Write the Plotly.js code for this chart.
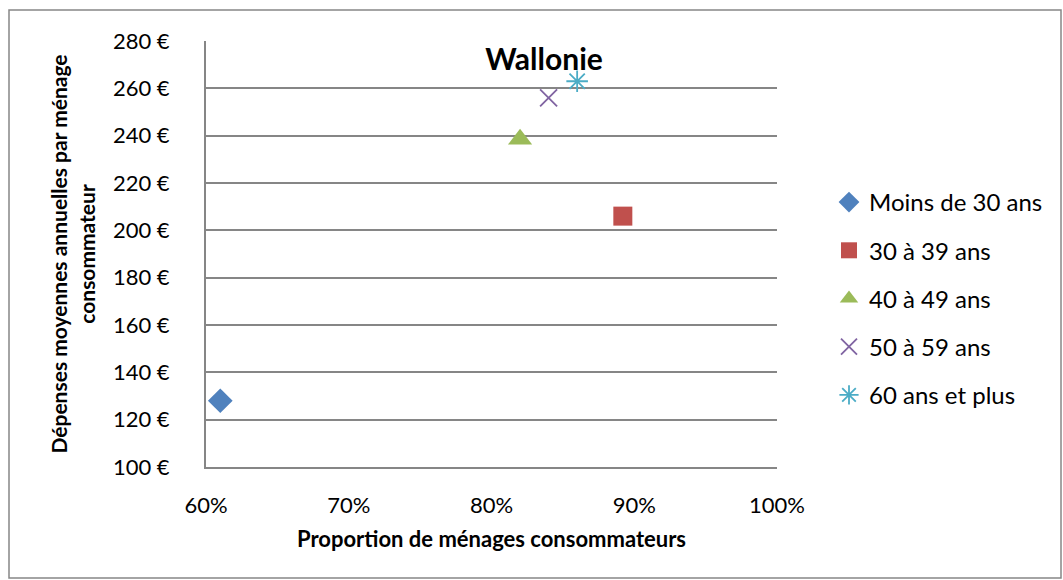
<!DOCTYPE html>
<html><head><meta charset="utf-8">
<script src="https://cdn.plot.ly/plotly-3.0.1.min.js"></script>
<style>body{margin:0;padding:0;background:#fff}#chart{width:1063px;height:580px}</style>
</head><body><div id="chart"></div>
<script>
const seriesNames = ["Moins de 30 ans", "30 à 39 ans", "40 à 49 ans", "50 à 59 ans", "60 ans et plus"];
const proportion = [0.61, 0.892, 0.82, 0.84, 0.86];
const depenses = [128, 206, 238.5, 256, 263];
const colors = ["#4F81BD", "#C0504D", "#9BBB59", "#8064A2", "#4BACC6"];
const symbols = ["diamond", "square", "triangle-up", "x-thin-open", "asterisk-open"];
const sizes = [19, 19, 21, 17, 18];

const FONT = "Lato, 'Open Sans', sans-serif";
const traces = seriesNames.map((n, i) => ({
  type: "scatter", mode: "markers", name: n, legendgroup: "g" + i,
  x: [proportion[i]], y: [depenses[i]],
  marker: {symbol: symbols[i], color: colors[i], size: sizes[i],
           line: {color: colors[i], width: (i >= 3 ? 1.8 : 0)}},
  hoverinfo: "x+y+name"
}));

const L = 206, R = 777, T = 41, B = 467, W = 1063, H = 580;
const pw = R - L, ph = B - T;
const layout = {
  width: W, height: H,
  margin: {l: L, r: W - R, t: T, b: H - B},
  paper_bgcolor: "#fff", plot_bgcolor: "#fff",
  font: {family: FONT, size: 22, color: "#000"},
  title: {text: "<b>Wallonie</b>", font: {family: FONT, size: 30, color: "#000"},
          xref: "paper", x: (544 - L) / pw, xanchor: "center",
          yref: "paper", y: (B - 59) / ph, yanchor: "middle"},
  xaxis: {range: [0.6, 1.0], dtick: 0.1, tick0: 0.6, tickformat: ".0%",
          showgrid: false, zeroline: false, showline: true, linecolor: "#868686", linewidth: 2,
          ticks: "", ticklabelstandoff: 18, tickfont: {size: 22},
          title: {text: "<b>Proportion de ménages consommateurs</b>", font: {size: 22}, standoff: 14}},
  yaxis: {range: [100, 280], dtick: 20, tick0: 100, ticksuffix: " €",
          showgrid: true, gridcolor: "#868686", gridwidth: 1.5, zeroline: false,
          showline: true, linecolor: "#868686", linewidth: 2,
          ticks: "", ticklabelstandoff: 30, tickfont: {size: 22},
          title: {text: "<b>Dépenses moyennes annuelles par ménage<br>consommateur</b>", font: {size: 21}, standoff: 12}},
  legend: {x: (829 - L) / pw, xanchor: "left", y: (B - 180) / ph, yanchor: "top",
           font: {size: 24}, tracegroupgap: 14, itemwidth: 30, bgcolor: "rgba(0,0,0,0)"},
  showlegend: true,
  shapes: [{type: "rect", xref: "paper", yref: "paper",
            x0: (9 - L) / pw, x1: (1061 - L) / pw, y0: (B - 578) / ph, y1: (B - 10) / ph,
            line: {color: "#868686", width: 1.5}, fillcolor: "rgba(0,0,0,0)", layer: "below"}]
};
Plotly.newPlot("chart", traces, layout, {displayModeBar: false});
</script></body></html>
